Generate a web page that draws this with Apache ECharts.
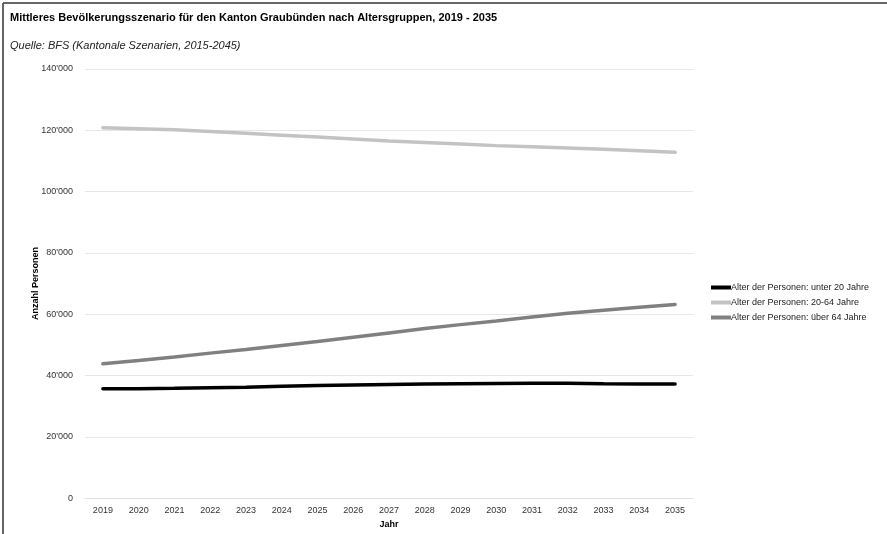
<!DOCTYPE html>
<html>
<head>
<meta charset="utf-8">
<script src="https://cdn.jsdelivr.net/npm/echarts@6/dist/echarts.min.js"></script>
<style>
  html, body { margin: 0; padding: 0; background: #fff; }
  #chart { width: 887px; height: 534px; }
</style>
</head>
<body>
<div id="chart"></div>
<script>
// Jahre (Kategorien der x-Achse)
const years = ['2019','2020','2021','2022','2023','2024','2025','2026','2027','2028','2029','2030','2031','2032','2033','2034','2035'];

// Mittleres Szenario, Anzahl Personen je Altersgruppe
const unter20 = [35700, 35700, 35800, 36000, 36200, 36500, 36700, 36900, 37100, 37200, 37300, 37400, 37500, 37500, 37300, 37200, 37200];
const von20bis64 = [120800, 120500, 120200, 119600, 119000, 118400, 117800, 117200, 116500, 116000, 115500, 115000, 114600, 114200, 113800, 113300, 112800];
const ueber64 = [43800, 44900, 46000, 47300, 48500, 49800, 51100, 52500, 53900, 55300, 56600, 57800, 59100, 60300, 61300, 62300, 63200];

const seriesNames = [
  'Alter der Personen: unter 20 Jahre',
  'Alter der Personen: 20-64 Jahre',
  'Alter der Personen: über 64 Jahre'
];
const seriesColors = ['#000000', '#c3c3c3', '#808080'];
const seriesData = [unter20, von20bis64, ueber64];

const font = 'Liberation Sans, Arial, sans-serif';

// Tausendertrennzeichen als Apostroph (Schweizer Schreibweise)
function fmt(v) {
  return String(v).replace(/\B(?=(\d{3})+(?!\d))/g, "'");
}

const chart = echarts.init(document.getElementById('chart'), null, { renderer: 'canvas' });

chart.setOption({
  animation: false,
  backgroundColor: '#ffffff',
  textStyle: { fontFamily: font },
  title: [
    {
      text: 'Mittleres Bevölkerungsszenario für den Kanton Graubünden nach Altersgruppen, 2019 - 2035',
      left: 5, top: 7,
      textStyle: { fontSize: 11, fontWeight: 'bold', color: '#000', fontFamily: font }
    },
    {
      text: 'Quelle: BFS (Kantonale Szenarien, 2015-2045)',
      left: 5, top: 35,
      textStyle: { fontSize: 11, fontStyle: 'italic', fontWeight: 'normal', color: '#222', fontFamily: font }
    }
  ],
  legend: {
    orient: 'vertical',
    left: 706,
    top: 278,
    itemWidth: 20,
    itemHeight: 4,
    itemGap: 6,
    icon: 'rect',
    textStyle: { fontSize: 9, color: '#222', fontFamily: font, padding: [0, 0, 0, -5] },
    data: seriesNames
  },
  grid: { left: 85, right: 194, top: 69, bottom: 34 },
  xAxis: {
    type: 'category',
    data: years,
    boundaryGap: true,
    name: 'Jahr',
    nameLocation: 'middle',
    nameGap: 20,
    nameTextStyle: { fontSize: 9, fontWeight: 'bold', color: '#000', fontFamily: font },
    axisLine: { show: true, lineStyle: { color: '#e0e0e0', width: 1 } },
    axisTick: { show: false },
    axisLabel: { interval: 0, fontSize: 9, color: '#333', margin: 8, fontFamily: font }
  },
  yAxis: {
    type: 'value',
    min: 0,
    max: 140000,
    interval: 20000,
    name: 'Anzahl Personen',
    nameLocation: 'middle',
    nameGap: 45,
    nameMoveOverlap: false,
    nameTextStyle: { fontSize: 9, fontWeight: 'bold', color: '#000', fontFamily: font },
    axisLine: { show: false },
    axisTick: { show: false },
    splitLine: { lineStyle: { color: '#e6e6e6', width: 1 } },
    axisLabel: { fontSize: 9, color: '#333', margin: 12, formatter: fmt, fontFamily: font }
  },
  series: seriesData.map((d, i) => ({
    name: seriesNames[i],
    type: 'line',
    data: d,
    symbol: 'none',
    smooth: false,
    lineStyle: { color: seriesColors[i], width: 3.5, cap: 'round' },
    itemStyle: { color: seriesColors[i] }
  })),
  graphic: [
    { type: 'line', shape: { x1: 3, y1: 3, x2: 887, y2: 3 }, style: { stroke: '#666', lineWidth: 2 } },
    { type: 'line', shape: { x1: 3, y1: 3, x2: 3, y2: 534 }, style: { stroke: '#666', lineWidth: 2 } }
  ]
});
</script>
</body>
</html>
